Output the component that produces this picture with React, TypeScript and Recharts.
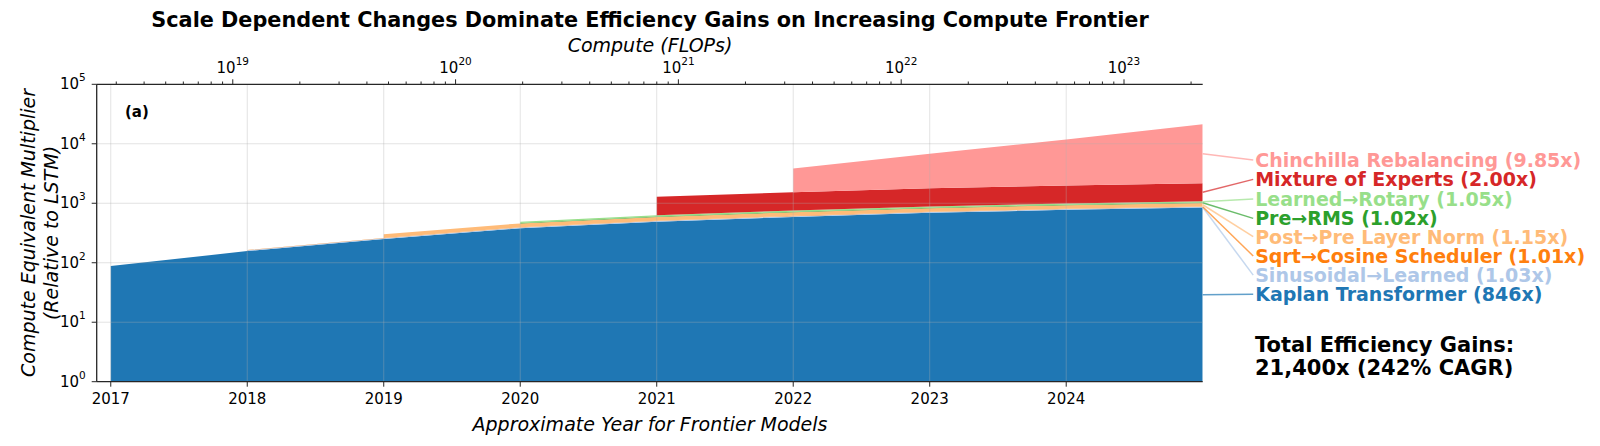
import React from 'react';
import { ComposedChart, Area, Line, XAxis, YAxis, ReferenceLine, ReferenceDot } from 'recharts';

const FONT = '"DejaVu Sans", sans-serif';
const INK = '#262626';

// approximate year of frontier models, one row per year
const years = [2017, 2018, 2019, 2020, 2021, 2022, 2023, 2024, 2025];

// multiplier of each change over the layer below it (null = not yet adopted)
const kaplan = [88, 157, 250, 380, 490, 590, 690, 775, 846];
const sinusoidalLearned = [null, 1.03, 1.03, 1.03, 1.03, 1.03, 1.03, 1.03, 1.03];
const sqrtCosine = [null, 1.01, 1.01, 1.01, 1.01, 1.01, 1.01, 1.01, 1.01];
const postPreNorm = [null, null, 1.16, 1.16, 1.15, 1.15, 1.15, 1.15, 1.15];
const preRms = [null, null, null, 1.02, 1.02, 1.02, 1.02, 1.02, 1.02];
const learnedRotary = [null, null, null, 1.05, 1.05, 1.05, 1.05, 1.05, 1.05];
const mixtureExperts = [null, null, null, null, 2.05, 2.03, 2.02, 2.01, 2.0];
const chinchilla = [null, null, null, null, null, 2.5, 3.8, 5.9, 9.85];

// where the right-hand labels sit, in multiplier units
const labelAnchors = [29.4, 62, 130, 274, 557, 1177, 2520, 5320];
const LABEL_X = 2025.37;

const yearTicks = [2017, 2018, 2019, 2020, 2021, 2022, 2023, 2024];
const multTicks = [1, 10, 100, 1000, 10000, 100000];
const YEAR_DOMAIN: [number, number] = [2016.897, 2025];

// top axis: frontier compute, log10(FLOPs) at 2017 and growth per year
const FLOPS_2017 = 18.4524;
const FLOPS_PER_YEAR = 0.6126;
const flopMajors = [19, 20, 21, 22, 23];
const flopMantissas = [2, 3, 4, 5, 6, 7, 8, 9];

const yearOfFlops = (e: number) => 2017 + (e - FLOPS_2017) / FLOPS_PER_YEAR;
const flopsOfYear = (y: number) => FLOPS_2017 + (y - 2017) * FLOPS_PER_YEAR;

const layers = [
  { key: 'kaplan', name: 'Kaplan Transformer (846x)', color: '#1f77b4', values: kaplan },
  { key: 'sinLearned', name: 'Sinusoidal\u2192Learned (1.03x)', color: '#aec7e8', values: sinusoidalLearned },
  { key: 'sqrtCos', name: 'Sqrt\u2192Cosine Scheduler (1.01x)', color: '#ff7f0e', values: sqrtCosine },
  { key: 'postPre', name: 'Post\u2192Pre Layer Norm (1.15x)', color: '#ffbb78', values: postPreNorm },
  { key: 'preRms', name: 'Pre\u2192RMS (1.02x)', color: '#2ca02c', values: preRms },
  { key: 'rotary', name: 'Learned\u2192Rotary (1.05x)', color: '#98df8a', values: learnedRotary },
  { key: 'moe', name: 'Mixture of Experts (2.00x)', color: '#d62728', values: mixtureExperts },
  { key: 'chinchilla', name: 'Chinchilla Rebalancing (9.85x)', color: '#ff9896', values: chinchilla },
];

// each layer is a band [below, below * multiplier]
const rows = years.map((year, i) => {
  const row: Record<string, any> = { year };
  let top = 1;
  layers.forEach((l, li) => {
    const v = l.values[i];
    if (v == null) {
      row[l.key] = null;
      return;
    }
    const high = li === 0 ? v : top * v;
    row[l.key] = [top, high];
    top = high;
  });
  return row;
});
const lastRow = rows[rows.length - 1];

const flopTicks: number[] = [];
for (let n = 18; n <= 23; n++) {
  flopMantissas.forEach((m) => {
    const y = yearOfFlops(n + Math.log10(m));
    if (y > YEAR_DOMAIN[0] && y < YEAR_DOMAIN[1]) flopTicks.push(y);
  });
  if (flopMajors.includes(n)) flopTicks.push(yearOfFlops(n));
}

const MultTick = (props: any) => {
  const { x, y, payload } = props;
  const exp = Math.round(Math.log10(payload.value));
  return (
    <text x={x} y={y} textAnchor="end" dominantBaseline="central" fontFamily={FONT} fontSize={15} fill="#000">
      <tspan>10</tspan>
      <tspan dy={-7} fontSize={10.5}>{exp}</tspan>
    </text>
  );
};

const FlopTick = (props: any) => {
  const { x, y, payload } = props;
  const e = flopsOfYear(payload.value);
  const major = Math.abs(e - Math.round(e)) < 1e-3;
  return (
    <g>
      <line x1={x} x2={x} y1={y} y2={y - (major ? 5 : 2.8)} stroke={INK} strokeWidth={1} />
      {major && (
        <text x={x} y={y - 16.5} textAnchor="middle" dominantBaseline="central" fontFamily={FONT} fontSize={15} fill="#000">
          <tspan>10</tspan>
          <tspan dy={-7} fontSize={10.5}>{Math.round(e)}</tspan>
        </text>
      )}
    </g>
  );
};

export default function App() {
  return (
    <div style={{ position: 'absolute', left: 0, top: 0, width: 1600, height: 446, background: '#fff' }}>
      <ComposedChart
        width={1600}
        height={446}
        data={rows}
        margin={{ top: 44.3, right: 397.3, bottom: 34.3, left: 36.7 }}
      >
        <XAxis
          xAxisId="year"
          dataKey="year"
          type="number"
          domain={YEAR_DOMAIN}
          allowDataOverflow
          ticks={yearTicks}
          interval={0}
          height={30}
          tickSize={5}
          tickMargin={7}
          axisLine={{ stroke: INK, strokeWidth: 1.3 }}
          tickLine={{ stroke: INK }}
          tick={{ fontSize: 15, fill: '#000', fontFamily: FONT }}
        />
        <XAxis
          xAxisId="flops"
          dataKey="year"
          orientation="top"
          type="number"
          domain={YEAR_DOMAIN}
          allowDataOverflow
          ticks={flopTicks}
          interval={0}
          height={40}
          tickSize={0}
          tickMargin={0}
          tickLine={false}
          axisLine={{ stroke: INK, strokeWidth: 1.3 }}
          tick={<FlopTick />}
        />
        <YAxis
          yAxisId="mult"
          scale="log"
          type="number"
          domain={[1, 100000]}
          allowDataOverflow
          ticks={multTicks}
          interval={0}
          width={60}
          tickSize={5}
          tickMargin={6}
          axisLine={{ stroke: INK, strokeWidth: 1.3 }}
          tickLine={{ stroke: INK }}
          tick={<MultTick />}
        />
        <YAxis
          yAxisId="right"
          orientation="right"
          type="number"
          domain={[0, 1]}
          width={0}
          tick={false}
          tickLine={false}
          axisLine={{ stroke: INK, strokeWidth: 1.3 }}
        />

        {layers.map((l) => (
          <Area
            key={l.key}
            xAxisId="year"
            yAxisId="mult"
            dataKey={l.key}
            type="linear"
            fill={l.color}
            fillOpacity={1}
            stroke="none"
            isAnimationActive={false}
          />
        ))}
        {/* invisible series so the compute axis has something to scale */}
        <Line
          xAxisId="flops"
          yAxisId="mult"
          dataKey={(d: any) => d.kaplan[1]}
          stroke="none"
          dot={false}
          activeDot={false}
          legendType="none"
          isAnimationActive={false}
        />

        {yearTicks.map((t) => (
          <ReferenceLine key={'gx' + t} xAxisId="year" yAxisId="mult" x={t} stroke="#b0b0b0" strokeOpacity={0.35} strokeWidth={1} />
        ))}
        {multTicks.slice(1, -1).map((t) => (
          <ReferenceLine key={'gy' + t} xAxisId="year" yAxisId="mult" y={t} stroke="#b0b0b0" strokeOpacity={0.35} strokeWidth={1} />
        ))}

        {layers.map((l, i) => {
          const band = lastRow[l.key] as number[];
          const mid = Math.sqrt(band[0] * band[1]);
          return (
            <ReferenceLine
              key={'lead' + l.key}
              xAxisId="year"
              yAxisId="mult"
              segment={[{ x: 2025, y: mid }, { x: LABEL_X, y: labelAnchors[i] }]}
              ifOverflow="visible"
              stroke={l.color}
              strokeOpacity={0.7}
              strokeWidth={1.5}
            />
          );
        })}
        {layers.map((l, i) => (
          <ReferenceDot
            key={'lab' + l.key}
            xAxisId="year"
            yAxisId="mult"
            x={LABEL_X}
            y={labelAnchors[i]}
            r={0}
            fill="none"
            stroke="none"
            ifOverflow="visible"
            label={(p: any) => (
              <text
                x={p.viewBox.x + 2}
                y={p.viewBox.y}
                dominantBaseline="central"
                fontFamily={FONT}
                fontWeight="bold"
                fontSize={19}
                fill={l.color}
              >
                {l.name}
              </text>
            )}
          />
        ))}
      </ComposedChart>

      <svg width={1600} height={446} style={{ position: 'absolute', left: 0, top: 0, pointerEvents: 'none' }}>
        <text x={650} y={20} textAnchor="middle" dominantBaseline="central" fontFamily={FONT} fontWeight="bold" fontSize={20.8}>
          Scale Dependent Changes Dominate Efficiency Gains on Increasing Compute Frontier
        </text>
        <text x={650} y={44.5} textAnchor="middle" dominantBaseline="central" fontFamily={FONT} fontStyle="italic" fontSize={19}>
          Compute (FLOPs)
        </text>
        <text x={650} y={424} textAnchor="middle" dominantBaseline="central" fontFamily={FONT} fontStyle="italic" fontSize={19}>
          Approximate Year for Frontier Models
        </text>
        <g transform="translate(28,233) rotate(-90)">
          <text x={0} y={0} textAnchor="middle" dominantBaseline="central" fontFamily={FONT} fontStyle="italic" fontSize={19}>
            Compute Equivalent Multiplier
          </text>
        </g>
        <g transform="translate(51,233) rotate(-90)">
          <text x={0} y={0} textAnchor="middle" dominantBaseline="central" fontFamily={FONT} fontStyle="italic" fontSize={19}>
            (Relative to LSTM)
          </text>
        </g>
        <text x={125} y={112} dominantBaseline="central" fontFamily={FONT} fontWeight="bold" fontSize={15}>
          (a)
        </text>
        <text x={1255} y={345} dominantBaseline="central" fontFamily={FONT} fontWeight="bold" fontSize={21}>
          Total Efficiency Gains:
        </text>
        <text x={1255} y={368} dominantBaseline="central" fontFamily={FONT} fontWeight="bold" fontSize={21}>
          21,400x (242% CAGR)
        </text>
      </svg>
    </div>
  );
}
